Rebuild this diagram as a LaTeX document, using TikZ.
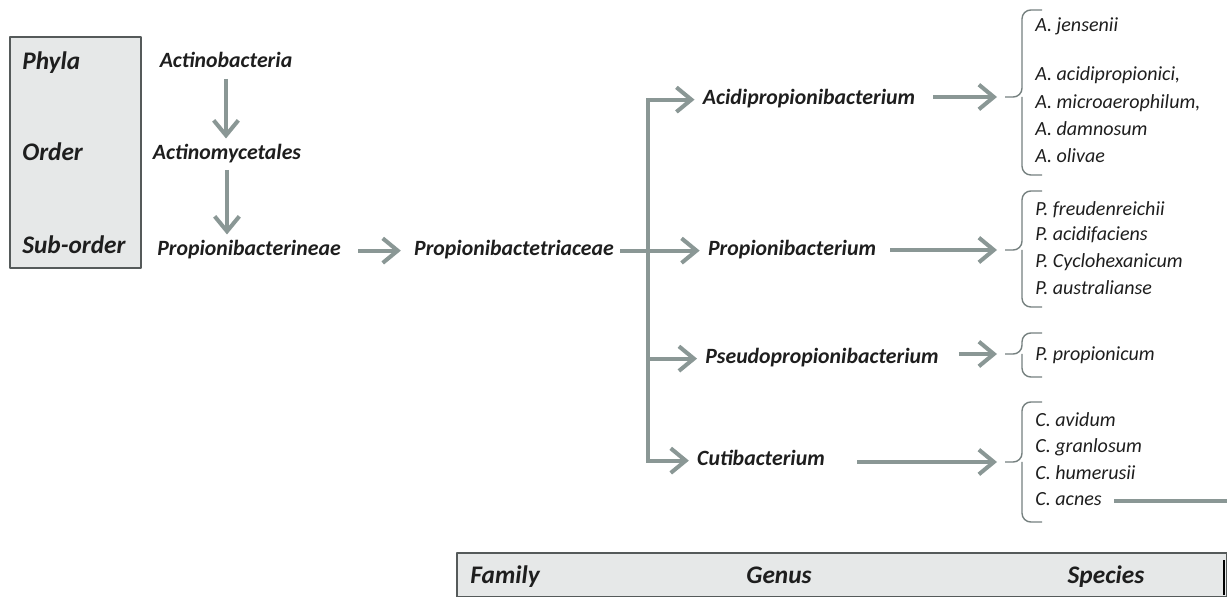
\documentclass[tikz,border=0pt]{standalone}
\usepackage{fontspec}
\setmainfont{Carlito}
\usetikzlibrary{arrows.meta}
\definecolor{arrgray}{RGB}{138,151,149}
\definecolor{boxgray}{RGB}{230,232,232}
\definecolor{boxline}{RGB}{85,90,90}
\definecolor{txtdark}{RGB}{30,30,30}
\begin{document}
\begin{tikzpicture}[x=0.02cm,y=-0.02cm,line join=round,
  taxon/.style={font=\fontsize{12.4}{14}\selectfont\bfseries\itshape,text=txtdark,inner sep=0pt,text height=1.6ex,text depth=0.5ex,yshift=-1.5pt},
  rank/.style={font=\fontsize{14.4}{16}\selectfont\bfseries\itshape,text=txtdark,inner sep=0pt,anchor=west,text height=1.6ex,text depth=0.5ex,yshift=-1.5pt},
  species/.style={font=\fontsize{11.4}{13}\selectfont\itshape,text=txtdark,inner sep=0pt,anchor=west,text height=1.6ex,text depth=0.5ex,yshift=-1.5pt},
  trunk/.style={draw=arrgray,line width=2.3pt,line join=miter},
  link/.style={trunk,-{Straight Barb[length=8.5pt,width=14pt]}},
  bracket/.style={draw=arrgray!85!black,line width=0.8pt,rounded corners=5pt}]
\useasboundingbox (0,0) rectangle (1227,597);
\filldraw[fill=boxgray,draw=boxline,line width=1.1pt] (10,37) rectangle (141,268);
\node[rank] (phyla) at (22,62) {Phyla};
\node[rank] (order) at (22,153) {Order};
\node[rank] (suborder) at (22,246) {Sub-order};
\node[taxon] (phy) at (226,60) {Actinobacteria};
\node[taxon] (ord) at (227,152) {Actinomycetales};
\node[taxon] (sub) at (249,248) {Propionibacterineae};
\node[taxon] (fam) at (514,248) {Propionibactetriaceae};
\node[taxon] (acid) at (809,97) {Acidipropionibacterium};
\node[taxon] (prop) at (792,248) {Propionibacterium};
\node[taxon] (pseudo) at (822,356) {Pseudopropionibacterium};
\node[taxon] (cuti) at (761,458) {Cutibacterium};
\draw[link] ([yshift=-0.14cm]phy.south) -- ([yshift=0.14cm]phy.south |- ord.north);
\draw[link] ([yshift=-0.12cm]ord.south) -- ([yshift=0.14cm]ord.south |- sub.north);
\draw[link] ([xshift=0.34cm]sub.east) -- ([xshift=-0.26cm]fam.west);
\coordinate (split) at (648,0 |- fam.east);
\draw[trunk] ([xshift=0.12cm]fam.east) -- (split);
\draw[link] (split) |- ([xshift=-0.16cm]acid.west);
\draw[link] (split) -- ([xshift=-0.16cm]split -| prop.west);
\draw[link] (split |- pseudo) -- ([xshift=-0.16cm]pseudo.west);
\draw[link] (split) |- ([xshift=-0.16cm]cuti.west);
\coordinate (tipA) at (1005,97);
\coordinate (tipP) at (1005,250);
\coordinate (tipS) at (1005,354);
\coordinate (tipC) at (1005,462);
\draw[bracket] (1042,10) -- (1022,10) -- (1022,97) -- (tipA);
\draw[bracket] (1022,97) -- (1022,175) -- (1042,175);
\draw[bracket] (1042,191) -- (1022,191) -- (1022,250) -- (tipP);
\draw[bracket] (1022,250) -- (1022,307) -- (1042,307);
\draw[bracket] (1042,333) -- (1022,333) -- (1022,354) -- (tipS);
\draw[bracket] (1022,354) -- (1022,377) -- (1042,377);
\draw[bracket] (1042,402) -- (1022,402) -- (1022,462) -- (tipC);
\draw[bracket] (1022,462) -- (1022,522) -- (1042,522);
\draw[link] ([xshift=0.36cm]acid.east |- tipA) -- ([xshift=-0.16cm]tipA);
\draw[link] ([xshift=0.28cm]prop.east |- tipP) -- ([xshift=-0.16cm]tipP);
\draw[link] ([xshift=0.4cm]pseudo.east |- tipS) -- ([xshift=-0.16cm]tipS);
\draw[link] ([xshift=0.64cm]cuti.east |- tipC) -- ([xshift=-0.16cm]tipC);
\node[species] (a1) at (1035,24) {A. jensenii};
\node[species] (a3) at (1035,73) {A. acidipropionici,};
\node[species] (a4) at (1035,101) {A. microaerophilum,};
\node[species] (a5) at (1035,128) {A. damnosum};
\node[species] (a6) at (1035,155) {A. olivae};
\node[species] (p1) at (1035,208) {P. freudenreichii};
\node[species] (p2) at (1035,233) {P. acidifaciens};
\node[species] (p3) at (1035,260) {P. Cyclohexanicum};
\node[species] (p4) at (1035,287) {P. australianse};
\node[species] (s1) at (1035,353) {P. propionicum};
\node[species] (c1) at (1035,419) {C. avidum};
\node[species] (c2) at (1035,445) {C. granlosum};
\node[species] (c3) at (1035,472) {C. humerusii};
\node[species] (c4) at (1035,498) {C. acnes};
\coordinate (edge) at (1227,498);
\draw[trunk] ([xshift=0.24cm]c4.east) -- (c4.east -| edge);
\filldraw[fill=boxgray,draw=boxline,line width=1.1pt] (457,553) rectangle (1227,597);
\draw[black,line width=1pt] (1224,560) -- (1224,595);
\node[rank] (family) at (470,576) {Family};
\node[rank,anchor=center] (genus) at (779,576) {Genus};
\node[rank,anchor=center] (species) at (1106,576) {Species};
\end{tikzpicture}
\end{document}
